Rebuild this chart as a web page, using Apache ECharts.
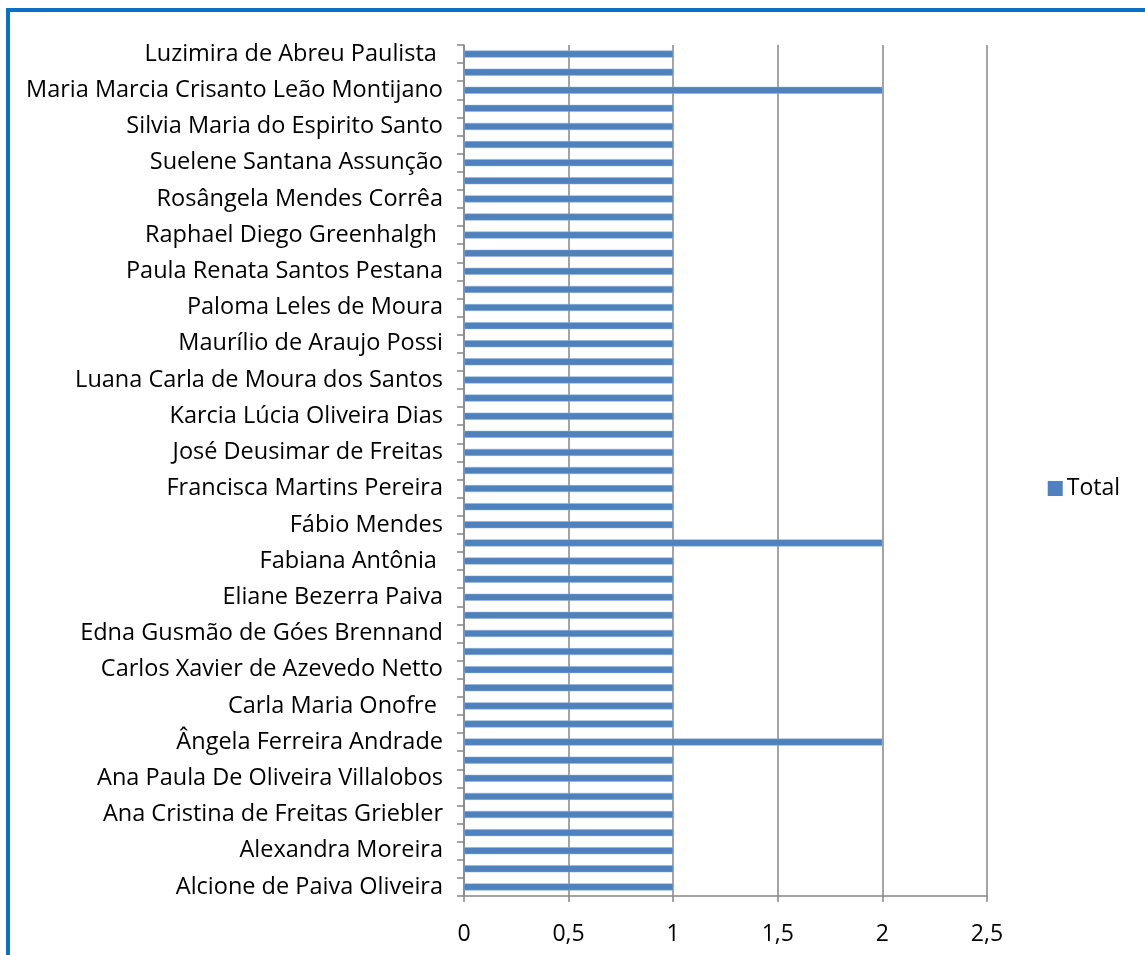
<!DOCTYPE html>
<html>
<head>
<meta charset="utf-8">
<script src="https://cdn.jsdelivr.net/npm/echarts@6/dist/echarts.min.js"></script>
<style>
  html, body { margin: 0; padding: 0; background: #fff; }
  #chart { width: 1145px; height: 955px; }
</style>
</head>
<body>
<div id="chart"></div>
<script>
// categorias de baixo para cima; as vazias não têm rótulo visível no gráfico
var nomes = [
  "Alcione de Paiva Oliveira", "",
  "Alexandra Moreira", "",
  "Ana Cristina de Freitas Griebler", "",
  "Ana Paula De Oliveira Villalobos", "",
  "Ângela Ferreira Andrade", "",
  "Carla Maria Onofre ", "",
  "Carlos Xavier de Azevedo Netto", "",
  "Edna Gusmão de Góes Brennand", "",
  "Eliane Bezerra Paiva", "",
  "Fabiana Antônia ", "",
  "Fábio Mendes", "",
  "Francisca Martins Pereira", "",
  "José Deusimar de Freitas", "",
  "Karcia Lúcia Oliveira Dias", "",
  "Luana Carla de Moura dos Santos", "",
  "Maurílio de Araujo Possi", "",
  "Paloma Leles de Moura", "",
  "Paula Renata Santos Pestana", "",
  "Raphael Diego Greenhalgh ", "",
  "Rosângela Mendes Corrêa", "",
  "Suelene Santana Assunção", "",
  "Silvia Maria do Espirito Santo", "",
  "Maria Marcia Crisanto Leão Montijano", "",
  "Luzimira de Abreu Paulista "
];

var total = [
  1, 1, 1, 1, 1, 1, 1, 1, 2, 1,
  1, 1, 1, 1, 1, 1, 1, 1, 1, 2,
  1, 1, 1, 1, 1, 1, 1, 1, 1, 1,
  1, 1, 1, 1, 1, 1, 1, 1, 1, 1,
  1, 1, 1, 1, 2, 1, 1
];

var fonte = "Open Sans";
var cinza = "#868686";

var myChart = echarts.init(document.getElementById("chart"));

var option = {
  backgroundColor: "#fff",
  animation: false,
  graphic: [{
    type: "rect",
    shape: { x: 8, y: 10, width: 1300, height: 1100 },
    style: { fill: "none", stroke: "#0b70c3", lineWidth: 4 },
    silent: true
  }],
  legend: {
    data: ["Total"],
    right: 20,
    top: 472,
    orient: "vertical",
    itemWidth: 15,
    itemHeight: 15,
    itemGap: 6,
    icon: "rect",
    itemStyle: { borderWidth: 0 },
    textStyle: { fontFamily: fonte, fontSize: 23, color: "#000", padding: [0, 0, 0, -1] }
  },
  grid: { left: 464, right: 158, top: 45, bottom: 59, containLabel: false },
  xAxis: {
    type: "value",
    min: 0,
    max: 2.5,
    interval: 0.5,
    axisLine: { show: true, lineStyle: { color: cinza, width: 1.5 } },
    axisTick: { show: true, length: 6, lineStyle: { color: cinza, width: 1.5 } },
    axisLabel: {
      margin: 27,
      fontFamily: fonte,
      fontSize: 23,
      color: "#000",
      formatter: function (v) { return String(v).replace(".", ","); }
    },
    splitLine: { show: true, lineStyle: { color: cinza, width: 1.5 } }
  },
  yAxis: {
    type: "category",
    data: nomes,
    axisLine: { show: true, lineStyle: { color: cinza, width: 1.5 } },
    axisTick: { show: true, interval: 0, length: 7, lineStyle: { color: cinza, width: 1.5 } },
    axisLabel: {
      interval: 1,
      margin: 21,
      fontFamily: fonte,
      fontSize: 23.5,
      color: "#000"
    },
    splitLine: { show: false }
  },
  series: [{
    name: "Total",
    type: "bar",
    data: total,
    barWidth: 7,
    itemStyle: { color: "#4f81bd", borderColor: "#8fb0d8", borderWidth: 0.5 }
  }]
};

myChart.setOption(option);
</script>
</body>
</html>
